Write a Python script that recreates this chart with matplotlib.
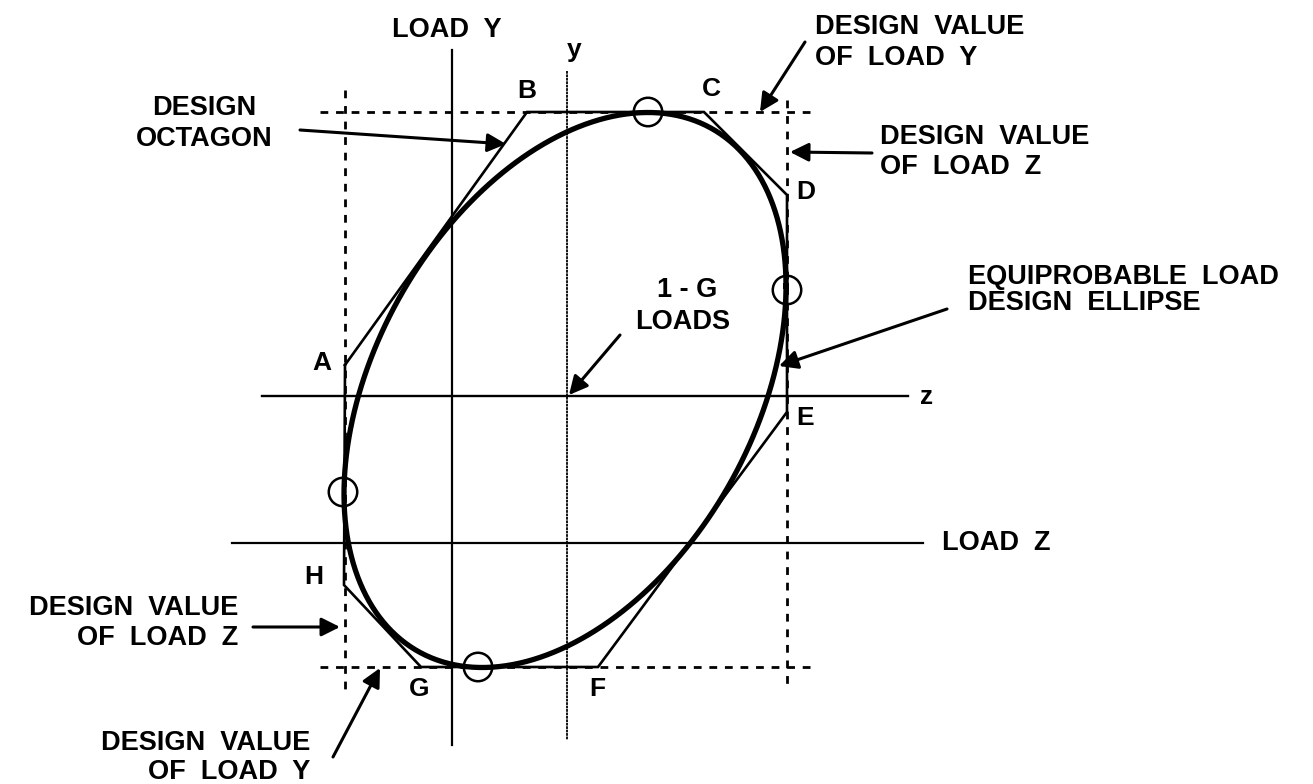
import numpy as np
import matplotlib
matplotlib.use("Agg")
import matplotlib.pyplot as plt

plt.rcParams['font.family'] = ['Liberation Sans', 'DejaVu Sans']

# diagram coordinates: origin at the 1-G load point, z to the right, y up
octagon_z = [-222, -40, 137, 220, 220, 31, -146, -223]
octagon_y = [31, 284, 284, 201, -16, -271, -271, -189]
octagon_names = ['A', 'B', 'C', 'D', 'E', 'F', 'G', 'H']
name_z = [-245, -40, 144, 239, 238, 30, -148, -253]
name_y = [33, 305, 307, 204, -22, -293, -293, -181]

# design value box
box_z = [-222, 220]
box_y = [-271, 284]

# equiprobable ellipse: centre, half extents, z-y covariance
ell_centre = (-2, 6)
ell_half_z = 221
ell_half_y = 277.5
ell_cov = 23000

# tangent points (circled)
tangent_z = [81, 220, -89, -224]
tangent_y = [284, 106, -271, -96]

load_y_z = -115
load_z_y = -147

fig = plt.figure(figsize=(13.13, 7.84), dpi=100)
ax = fig.add_axes([0, 0, 1, 1])
ax.set_xlim(-567, 746)
ax.set_ylim(-388, 396)
ax.axis('off')

# reference lines
ax.plot([load_y_z, load_y_z], [346, -349], c='k', lw=1.6)
ax.plot([-335, 356], [load_z_y, load_z_y], c='k', lw=1.6)
ax.plot([0, 0], [325, -344], c='k', lw=1.3, ls=(0, (1.5, 0.4)))
ax.plot([-305, 341], [0, 0], c='k', lw=1.7)
ax.text(7, 346, 'y', fontsize=19, fontweight='bold', ha='center', va='center')
ax.text(360, -1, 'z', fontsize=19, fontweight='bold', ha='center', va='center')

# dashed design value lines
dash = (0, (2.8, 2.8))
ax.plot([-247, 245], [box_y[1], box_y[1]], c='k', lw=2.0, ls=dash)
ax.plot([-247, 243], [box_y[0], box_y[0]], c='k', lw=2.0, ls=dash)
ax.plot([box_z[0], box_z[0]], [306, -296], c='k', lw=2.0, ls=dash)
ax.plot([box_z[1], box_z[1]], [296, -289], c='k', lw=2.0, ls=dash)

# octagon
oz = octagon_z + octagon_z[:1]
oy = octagon_y + octagon_y[:1]
ax.plot(oz, oy, c='k', lw=1.9, solid_joinstyle='miter')
for n, x, y in zip(octagon_names, name_z, name_y):
    ax.text(x, y, n, fontsize=19, fontweight='bold', ha='center', va='center')

# ellipse
t = np.linspace(0, 2 * np.pi, 400)
a = ell_cov / ell_half_z
b = np.sqrt(ell_half_y ** 2 - a ** 2)
ez = ell_centre[0] + ell_half_z * np.cos(t)
ey = ell_centre[1] + a * np.cos(t) + b * np.sin(t)
ax.plot(ez, ey, c='k', lw=3.8)

ax.scatter(tangent_z, tangent_y, s=420, facecolors='none', edgecolors='k',
           linewidths=1.8, zorder=5)

# arrows
arrows = [((238, 354), (193, 284)),
          ((305, 243), (223, 244)),
          ((-267, 266), (-61, 252)),
          ((380, 87), (212, 30)),
          ((53, 61), (2, 1)),
          ((-314, -231), (-227, -231)),
          ((-234, -361), (-187, -272))]
for start, tip in arrows:
    ax.annotate('', xy=tip, xytext=start,
                arrowprops=dict(arrowstyle='-|>', lw=2.2, color='k',
                                mutation_scale=28, shrinkA=0, shrinkB=0))

fs = 19.5
def label(x, y, s, ha='left'):
    ax.text(x, y, s, fontsize=fs, fontweight='bold', ha=ha, va='center')

label(-120, 366, 'LOAD  Y', ha='center')
label(248, 369, 'DESIGN  VALUE')
label(248, 338, 'OF  LOAD  Y')
label(313, 259, 'DESIGN  VALUE')
label(313, 229, 'OF  LOAD  Z')
label(-363, 288, 'DESIGN', ha='center')
label(-363, 257, 'OCTAGON', ha='center')
label(401, 119, 'EQUIPROBABLE  LOAD')
label(401, 93, 'DESIGN  ELLIPSE')
label(120, 106, '1 - G', ha='center')
label(116, 74, 'LOADS', ha='center')
label(375, -147, 'LOAD  Z')
label(-329, -212, 'DESIGN  VALUE', ha='right')
label(-329, -242, 'OF  LOAD  Z', ha='right')
label(-257, -347, 'DESIGN  VALUE', ha='right')
label(-257, -376, 'OF  LOAD  Y', ha='right')

fig.savefig('out.png', dpi=100)
